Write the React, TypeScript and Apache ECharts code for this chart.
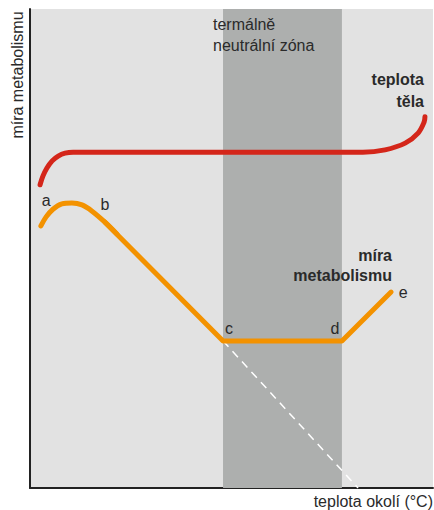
import React, { useEffect, useRef } from "react";
import * as echarts from "echarts";

// Data in abstract units: x = ambient temperature (0..100), y = metabolic rate (0..100)
const neutralZone = [47.9, 77.4];

const bodyTemp: [number, number][] = [
  [2.5, 63.3], [3.2, 65.1], [4.2, 66.8], [5.5, 68.3], [7.0, 69.3], [8.7, 69.9], [10.7, 70.1], [14, 70.1],
  [79, 70.1], [82.6, 70.1], [88.1, 70.6], [93.1, 72.0], [96.3, 74.1], [97.8, 76.4], [98.0, 77.5],
];

const metabolismCurve: [number, number][] = [
  [2.7, 54.7], [4.0, 56.6], [5.7, 58.2], [7.9, 59.3], [10.4, 59.5], [12.9, 59.1],
  [15.4, 57.8], [18.6, 55.5], [21.6, 53.0],
];

const metabolismLine: [number, number][] = [
  [18.6, 55.5], [47.9, 30.7], [77.4, 30.7], [89.6, 40.9],
];

const extrapolation: [number, number][] = [
  [47.9, 30.7], [81.4, 0],
];

const pointLabels: { name: string; value: [number, number] }[] = [
  { name: "a", value: [4.0, 60.1] },
  { name: "b", value: [18.6, 59.1] },
  { name: "c", value: [49.4, 33.4] },
  { name: "d", value: [75.7, 33.4] },
  { name: "e", value: [92.6, 40.9] },
];

const FONT = "'Liberation Sans', Arial, Helvetica, sans-serif";
const TXT = "#2a2a2a";

export default function App() {
  const ref = useRef<HTMLDivElement>(null);
  useEffect(() => {
    if (!ref.current) return;
    const chart = echarts.init(ref.current, undefined, { renderer: "svg" });
    const txt = (text: string, x: number, y: number, align: string, bold = false, rotation = 0) => ({
      type: "text", x, y, rotation, z: 100,
      style: {
        text, fill: TXT, font: `${bold ? "bold " : ""}16px ${FONT}`,
        align, verticalAlign: "middle",
      },
    });
    chart.setOption({
      animation: false,
      backgroundColor: "#ffffff",
      grid: {
        left: 30, right: 1, top: 9, bottom: 22,
        show: true, backgroundColor: "#e2e2e2", borderWidth: 0,
      },
      xAxis: {
        type: "value", min: 0, max: 100,
        axisLine: { show: true, onZero: false, lineStyle: { color: "#222", width: 2 } },
        axisTick: { show: false }, axisLabel: { show: false }, splitLine: { show: false },
      },
      yAxis: {
        type: "value", min: 0, max: 100,
        axisLine: { show: true, onZero: false, lineStyle: { color: "#222", width: 2 } },
        axisTick: { show: false }, axisLabel: { show: false }, splitLine: { show: false },
      },
      series: [
        {
          type: "line", data: [], z: 1, silent: true,
          markArea: {
            silent: true,
            itemStyle: { color: "#adafae" },
            data: [[{ xAxis: neutralZone[0] }, { xAxis: neutralZone[1] }]],
          },
        },
        {
          type: "line", data: extrapolation, z: 2, symbol: "none", silent: true,
          lineStyle: { color: "#ffffff", width: 1.5, type: [8, 6] },
        },
        {
          type: "line", data: bodyTemp, z: 3, symbol: "none", smooth: 0.35, silent: true,
          lineStyle: { color: "#d4261a", width: 5, cap: "round", join: "round" },
        },
        {
          type: "line", data: metabolismCurve, z: 3, symbol: "none", smooth: 0.35, silent: true,
          lineStyle: { color: "#f39200", width: 5, cap: "round", join: "round" },
        },
        {
          type: "line", data: metabolismLine, z: 3, symbol: "none", silent: true,
          lineStyle: { color: "#f39200", width: 5, cap: "round", join: "round" },
        },
        {
          type: "scatter", data: pointLabels, z: 4, symbolSize: 0, silent: true,
          itemStyle: { opacity: 1 },
          label: {
            show: true, position: "inside", formatter: "{b}",
            color: TXT, fontSize: 16, fontFamily: FONT,
          },
        },
      ],
      graphic: [
        txt("míra metabolismu", 17, 75, "center", false, Math.PI / 2),
        txt("teplota okolí (°C)", 433, 501, "right"),
        txt("termálně", 213, 24, "left"),
        txt("neutrální zóna", 213, 45, "left"),
        txt("teplota", 424, 79, "right", true),
        txt("těla", 424, 101, "right", true),
        txt("míra", 392, 255, "right", true),
        txt("metabolismu", 392, 275, "right", true),
      ],
    });
    return () => chart.dispose();
  }, []);
  return <div ref={ref} style={{ position: "fixed", left: 0, top: 0, width: 434, height: 510 }} />;
}
